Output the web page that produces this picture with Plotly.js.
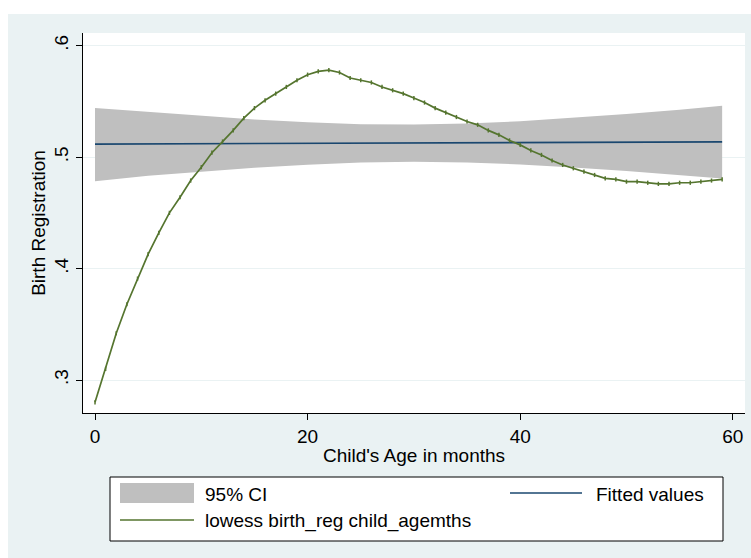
<!DOCTYPE html>
<html>
<head>
<meta charset="utf-8">
<script src="https://cdn.plot.ly/plotly-3.0.1.min.js"></script>
<style>html,body{margin:0;padding:0;background:#fff;}#chart{width:751px;height:558px;}</style>
</head>
<body>
<div id="chart"></div>
<script>
// ---- data ----
const months = [0,1,2,3,4,5,6,7,8,9,10,11,12,13,14,15,16,17,18,19,20,21,22,23,24,25,26,27,28,29,
                30,31,32,33,34,35,36,37,38,39,40,41,42,43,44,45,46,47,48,49,50,51,52,53,54,55,56,57,58,59];
const lowessValues = [0.280,0.310,0.342,0.368,0.391,0.413,0.432,0.450,0.464,0.479,
                      0.491,0.504,0.514,0.524,0.535,0.544,0.551,0.557,0.563,0.569,
                      0.574,0.577,0.578,0.576,0.571,0.569,0.567,0.563,0.560,0.557,
                      0.553,0.549,0.544,0.540,0.536,0.532,0.529,0.524,0.520,0.515,
                      0.511,0.506,0.502,0.497,0.493,0.490,0.487,0.484,0.481,0.480,
                      0.478,0.478,0.477,0.476,0.476,0.477,0.477,0.478,0.479,0.480];
const ciAges   = [0,5,10,15,20,25,30,35,40,45,50,55,59];
const fitted   = [0.5117,0.5119,0.5120,0.5122,0.5124,0.5125,0.5127,0.5129,0.5131,0.5132,0.5134,0.5136,0.5137];
const ciUpper  = [0.5440,0.5404,0.5368,0.5337,0.5312,0.5296,0.5292,0.5302,0.5322,0.5352,0.5387,0.5426,0.5461];
const ciLower  = [0.4784,0.4833,0.4870,0.4905,0.4932,0.4952,0.4958,0.4952,0.4934,0.4908,0.4875,0.4840,0.4809];
const xTicks = [0,20,40,60];
const yTicks = [0.3,0.4,0.5,0.6];
const yTickLabels = ['.3','.4','.5','.6'];
const legendLabels = ['95% CI','Fitted values','lowess birth_reg child_agemths'];

// ---- styling ----
const W = 751, H = 558;
const M = {l:83, r:6, t:33, b:145};
const pw = W - M.l - M.r, ph = H - M.t - M.b;
const px = v => (v - M.l) / pw;          // pixel -> paper x
const py = v => (H - M.b - v) / ph;      // pixel -> paper y
const FONT = 'Liberation Sans, Arial, Helvetica, sans-serif';
const FS = 19;
const GREEN = '#55752F', NAVY = '#1A476F', GRAY = '#BFBFBF', BG = '#EAF2F3';

const traces = [
  {x: ciAges, y: ciLower, type:'scatter', mode:'lines', line:{width:0, color:GRAY},
   showlegend:false, hoverinfo:'skip'},
  {x: ciAges, y: ciUpper, type:'scatter', mode:'lines', line:{width:0, color:GRAY},
   fill:'tonexty', fillcolor:GRAY, name:legendLabels[0], showlegend:false},
  {x: ciAges, y: fitted, type:'scatter', mode:'lines', line:{color:NAVY, width:1.6},
   name:legendLabels[1], showlegend:false},
  {x: months, y: lowessValues, type:'scatter', mode:'lines+markers',
   line:{color:GREEN, width:1.7},
   marker:{symbol:'line-ns', size:3, color:GREEN, line:{color:GREEN, width:1.5}},
   name:legendLabels[2], showlegend:false}
];

const shapes = [
  // white strips at the top and left of the image
  {type:'rect', xref:'paper', yref:'paper', x0:px(0), x1:px(8), y0:py(0), y1:py(H), fillcolor:'#fff', line:{width:0}, layer:'below'},
  {type:'rect', xref:'paper', yref:'paper', x0:px(0), x1:px(W), y0:py(0), y1:py(14), fillcolor:'#fff', line:{width:0}, layer:'below'},
  // legend box
  {type:'rect', xref:'paper', yref:'paper', x0:px(110), x1:px(723), y0:py(477), y1:py(541), fillcolor:'#fff', line:{color:'#000', width:1}},
  {type:'rect', xref:'paper', yref:'paper', x0:px(120), x1:px(194), y0:py(483), y1:py(503), fillcolor:GRAY, line:{width:0}},
  {type:'line', xref:'paper', yref:'paper', x0:px(510), x1:px(582), y0:py(493), y1:py(493), line:{color:NAVY, width:1.6}},
  {type:'line', xref:'paper', yref:'paper', x0:px(120), x1:px(194), y0:py(520), y1:py(520), line:{color:GREEN, width:1.6}}
];
const legendFont = {family:FONT, size:FS, color:'#000'};
const annotations = [
  {xref:'paper', yref:'paper', x:px(203), y:py(494), text:legendLabels[0], showarrow:false, xanchor:'left', yanchor:'middle', font:legendFont},
  {xref:'paper', yref:'paper', x:px(594), y:py(494), text:legendLabels[1], showarrow:false, xanchor:'left', yanchor:'middle', font:legendFont},
  {xref:'paper', yref:'paper', x:px(203), y:py(521), text:legendLabels[2], showarrow:false, xanchor:'left', yanchor:'middle', font:legendFont}
];

const layout = {
  width: W, height: H,
  margin: M,
  paper_bgcolor: BG,
  plot_bgcolor: '#fff',
  showlegend: false,
  font: {family: FONT, size: FS, color:'#000'},
  xaxis: {
    range: [-1.13, 61.15], tickvals: xTicks, ticks:'outside', ticklen:6, tickwidth:1, tickcolor:'#000',
    showline:true, linecolor:'#000', linewidth:1, showgrid:false, zeroline:false,
    tickfont:{family:FONT, size:FS},
    title:{text:"Child's Age in months", font:{family:FONT, size:FS}, standoff:2}
  },
  yaxis: {
    range: [0.2704, 0.6114], tickvals: yTicks, ticktext: yTickLabels, tickangle:-90,
    ticks:'outside', ticklen:6, tickwidth:1, tickcolor:'#000',
    showline:true, linecolor:'#000', linewidth:1, showgrid:true, gridcolor:BG, gridwidth:1, zeroline:false,
    tickfont:{family:FONT, size:FS},
    title:{text:'Birth Registration', font:{family:FONT, size:FS}, standoff:0}
  },
  shapes: shapes,
  annotations: annotations
};

Plotly.newPlot('chart', traces, layout, {displayModeBar:false, staticPlot:true});
</script>
</body>
</html>
